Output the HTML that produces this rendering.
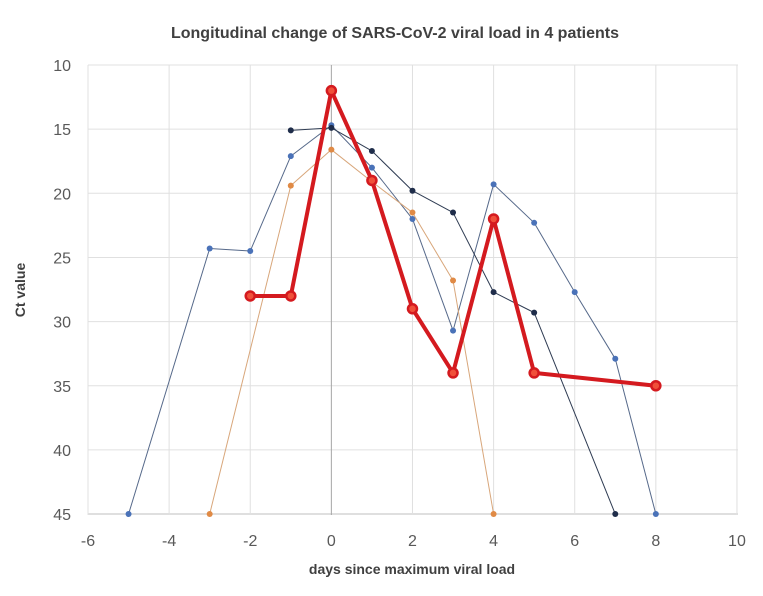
<!DOCTYPE html>
<html><head><meta charset="utf-8"><style>
html,body{margin:0;padding:0;background:#fff;}
svg{display:block;font-family:"Liberation Sans",sans-serif;}
</style></head><body>
<svg id="s" width="763" height="596" viewBox="0 0 763 596" xmlns="http://www.w3.org/2000/svg">
<rect width="763" height="596" fill="#fff"/>
<text x="395" y="38" text-anchor="middle" font-size="16" font-weight="bold" fill="#404040">Longitudinal  change of SARS-CoV-2 viral load in 4 patients</text>
<text x="412" y="574" text-anchor="middle" font-size="14" font-weight="bold" fill="#404040">days since maximum viral load</text>
<text transform="translate(25,290) rotate(-90)" text-anchor="middle" font-size="14" font-weight="bold" fill="#404040">Ct value</text>
<g id="g"></g>
</svg>
<script>
var X=function(d){return 88+(d+6)*40.56;};
var Y=function(v){return 65+(v-10)*12.83;};
var g=document.getElementById('g'),h='';
for(var v=10;v<=45;v+=5){var y=Y(v);h+='<line x1="88" x2="738" y1="'+y+'" y2="'+y+'" stroke="'+(v==45?'#bfbfbf':'#e0e0e0')+'" stroke-width="1"/>';
h+='<text x="71" y="'+(y+6)+'" text-anchor="end" font-size="16" fill="#595959">'+v+'</text>';}
for(var d=-6;d<=10;d+=2){var x=X(d);h+='<line x1="'+x+'" x2="'+x+'" y1="65" y2="515" stroke="'+(d==0?'#a6a6a6':'#e0e0e0')+'" stroke-width="1"/>';
h+='<text x="'+x+'" y="546" text-anchor="middle" font-size="16" fill="#595959">'+d+'</text>';}
function ser(p,lc,mc,w,r,mf){var s='';for(var i=0;i<p.length;i++)s+=X(p[i][0])+','+Y(p[i][1])+' ';
h+='<polyline points="'+s+'" fill="none" stroke="'+lc+'" stroke-width="'+w+'" stroke-linejoin="round"/>';
for(i=0;i<p.length;i++)h+='<circle cx="'+X(p[i][0])+'" cy="'+Y(p[i][1])+'" r="'+r+'" fill="'+(mf||mc)+'" stroke="'+mc+'" stroke-width="'+(mf?2.5:0)+'"/>';}
ser([[-5,45],[-3,24.3],[-2,24.5],[-1,17.1],[0,14.7],[1,18],[2,22],[3,30.7],[4,19.3],[5,22.3],[6,27.7],[7,32.9],[8,45]],'#56698a','#4a72b8',1,3);
ser([[-3,45],[-1,19.4],[0,16.6],[1,19.1],[2,21.5],[3,26.8],[4,45]],'#d8a67a','#e08a45',1,3);
ser([[-1,15.1],[0,14.9],[1,16.7],[2,19.8],[3,21.5],[4,27.7],[5,29.3],[7,45]],'#2e3b52','#1f2d4a',1,3);
ser([[-2,28],[-1,28],[0,12],[1,19],[2,29],[3,34],[4,22],[5,34],[8,35]],'#d41a1f','#d41a1f',4,4.5,'#f0503a');
g.innerHTML=h;
</script>
</body></html>
